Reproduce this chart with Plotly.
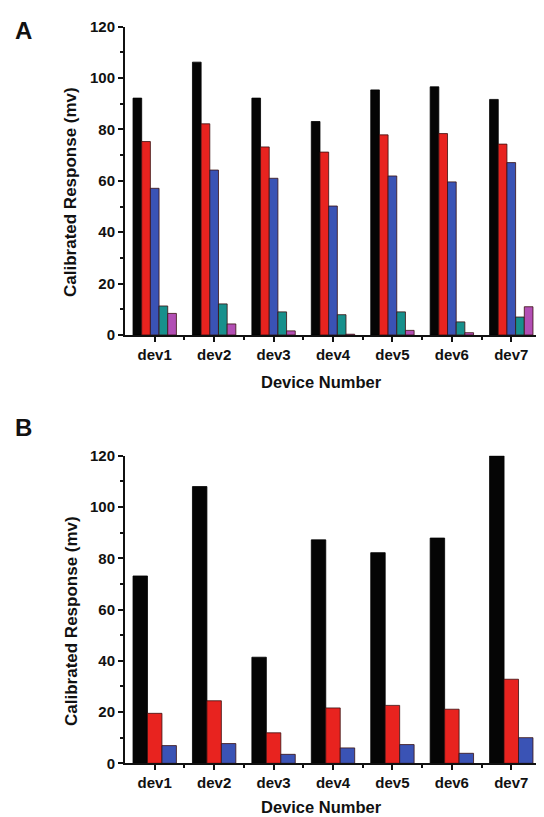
import plotly.graph_objects as go

devices = ["dev1", "dev2", "dev3", "dev4", "dev5", "dev6", "dev7"]

# Panel A series
a_s1 = [92.2, 106.2, 92.2, 83.1, 95.4, 96.6, 91.7]
a_s2 = [75.3, 82.2, 73.2, 71.2, 77.9, 78.4, 74.3]
a_s3 = [57.1, 64.2, 61.0, 50.2, 61.9, 59.6, 67.1]
a_s4 = [11.3, 12.1, 9.0, 7.9, 9.0, 5.1, 7.0]
a_s5 = [8.4, 4.3, 1.6, 0.3, 1.8, 0.9, 11.0]

# Panel B series
b_s1 = [73.1, 108.0, 41.4, 87.2, 82.2, 87.9, 120.0]
b_s2 = [19.5, 24.4, 11.9, 21.6, 22.6, 21.1, 32.8]
b_s3 = [6.9, 7.7, 3.5, 6.0, 7.3, 3.9, 10.0]

y_ticks = [0, 20, 40, 60, 80, 100, 120]

colors = ["#050505", "#e8231f", "#3a53b5", "#17908c", "#b24fb5"]

# page body has an 8px margin; size figure to fill the rest of the window
OFF = 8
W, H = 544 - OFF, 817 - OFF
xpos = list(range(len(devices)))

fig = go.Figure()

def add_bars(vals_list, xa, ya):
    for i, vals in enumerate(vals_list):
        fig.add_trace(go.Bar(
            x=xpos, y=vals, xaxis=xa, yaxis=ya,
            marker=dict(color=colors[i], line=dict(color="#3a1010" if i else "#000000", width=0.8)),
            showlegend=False,
        ))

add_bars([a_s1, a_s2, a_s3, a_s4, a_s5], "x", "y")
add_bars([b_s1, b_s2, b_s3], "x2", "y2")

def px(x):
    return (x - OFF) / W

def py(y):
    return 1 - (y - OFF) / H

xdom = [px(125), px(541)]
ydomA = [py(335), py(26.7)]
ydomB = [py(763.3), py(455.8)]

tickfont = dict(family="Liberation Sans, Arial, sans-serif", size=15, color="#111", weight="bold")

def xaxis_cfg(anchor, dom):
    return dict(
        domain=dom, anchor=anchor, range=[-0.5, 6.5], automargin=False,
        tickmode="array", tickvals=xpos, ticktext=devices,
        ticks="outside", ticklen=5, tickwidth=2, tickcolor="#111",
        showline=True, linecolor="#111", linewidth=2,
        showgrid=False, zeroline=False, tickfont=tickfont,
        minor=dict(tickvals=[x + 0.5 for x in xpos[:-1]] + [6.5], ticks="outside", ticklen=3, tickwidth=2, tickcolor="#111"),
    )

def yaxis_cfg(anchor, dom):
    return dict(
        domain=dom, anchor=anchor, range=[0, 120], automargin=False,
        tickmode="array", tickvals=y_ticks,
        ticks="outside", ticklen=5, tickwidth=2, tickcolor="#111",
        showline=True, linecolor="#111", linewidth=2,
        showgrid=False, zeroline=False, tickfont=tickfont,
        minor=dict(tickvals=[v + 10 for v in y_ticks[:-1]], ticks="outside", ticklen=3, tickwidth=2, tickcolor="#111"),
    )

fig.update_layout(
    width=W, height=H,
    margin=dict(l=0, r=0, t=0, b=0, pad=0, autoexpand=False),
    paper_bgcolor="white", plot_bgcolor="white",
    barmode="group", bargap=0.27, bargroupgap=0,
    xaxis=xaxis_cfg("y", xdom),
    yaxis=yaxis_cfg("x", ydomA),
    xaxis2=xaxis_cfg("y2", xdom),
    yaxis2=yaxis_cfg("x2", ydomB),
)

titlefont = dict(family="Liberation Sans, Arial, sans-serif", size=17, color="#111", weight="bold")
xtitlefont = dict(family="Liberation Sans, Arial, sans-serif", size=16.5, color="#111", weight="bold")
labfont = dict(family="Liberation Sans, Arial, sans-serif", size=24, color="#111", weight="bold")

def ann(text, x, y, font, angle=0):
    fig.add_annotation(text=text, x=px(x), y=py(y), xref="paper", yref="paper",
                       showarrow=False, font=font, textangle=angle,
                       xanchor="center", yanchor="middle")

ann("Calibrated Response (mv)", 71, 192, titlefont, -90)
ann("Calibrated Response (mv)", 71, 621, titlefont, -90)
ann("Device Number", 321, 382, xtitlefont)
ann("Device Number", 321, 807, xtitlefont)
ann("A", 23, 31, labfont)
ann("B", 23, 427, labfont)

fig.write_html("out.html")
